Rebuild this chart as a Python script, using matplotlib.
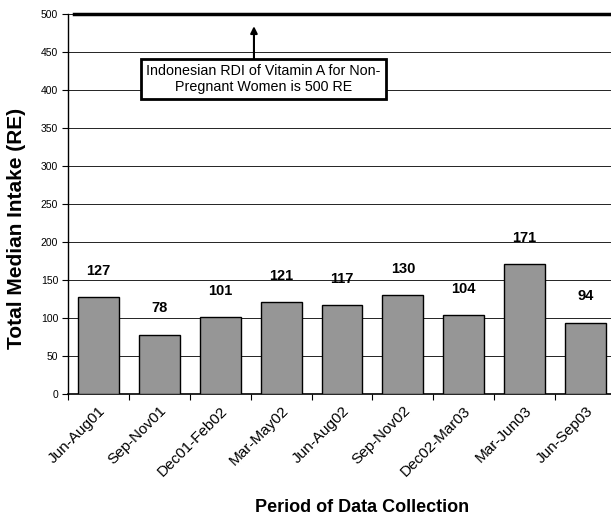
import matplotlib
matplotlib.use("Agg")
import matplotlib.pyplot as plt
import numpy as np

plt.rcParams['font.family'] = ['Liberation Sans', 'DejaVu Sans']

periods = ["Jun-Aug01", "Sep-Nov01", "Dec01-Feb02", "Mar-May02", "Jun-Aug02",
           "Sep-Nov02", "Dec02-Mar03", "Mar-Jun03", "Jun-Sep03"]
intake = [127, 78, 101, 121, 117, 130, 104, 171, 94]
rdi = 500
y_ticks = [0, 50, 100, 150, 200, 250, 300, 350, 400, 450, 500]

fig = plt.figure(figsize=(6.11, 5.18), dpi=100)
ax = fig.add_axes([68/611, 124/518, 548/611, 380/518])

x = np.arange(len(periods))
ax.bar(x, intake, width=0.67, color="#969696", edgecolor="black", linewidth=1.0, zorder=3)

for xi, v in zip(x, intake):
    ax.annotate(str(v), (xi, v), xytext=(0, 19), textcoords="offset points",
                ha="center", va="center", fontsize=10.5, fontweight="bold")

ax.set_xlim(-0.5, len(periods) - 0.5)
ax.set_ylim(0, 500)
ax.set_yticks(y_ticks)
ax.tick_params(axis="y", labelsize=7.5, length=4, width=0.8, direction="out", pad=3)
ax.yaxis.grid(True, color="black", linewidth=0.6, zorder=0)
ax.set_axisbelow(True)

ax.set_xticks(x)
ax.set_xticklabels(periods, rotation=45, ha="right", rotation_mode="anchor", fontsize=11)
ax.tick_params(axis="x", length=0, pad=7)
ax.set_xticks(np.arange(len(periods) + 1) - 0.5, minor=True)
ax.tick_params(axis="x", which="minor", length=4, width=0.8, direction="out")

for s in ["top", "right"]:
    ax.spines[s].set_visible(False)
ax.spines["left"].set_linewidth(1.0)
ax.spines["bottom"].set_linewidth(1.2)

ax.plot([-0.4, len(periods)], [rdi, rdi], color="black", linewidth=2.5, clip_on=False, zorder=4)

ax.annotate("", xy=(2.554, 484), xytext=(2.554, 440),
            arrowprops=dict(arrowstyle="-|>", color="black", lw=1.5, mutation_scale=10,
                            shrinkA=0, shrinkB=0), zorder=5)
ax.text(2.71, 414, "Indonesian RDI of Vitamin A for Non-\nPregnant Women is 500 RE",
        ha="center", va="center", fontsize=10.3, linespacing=1.2, zorder=6,
        bbox=dict(boxstyle="square,pad=0.35", fc="white", ec="black", lw=2))

ax.set_ylabel("Total Median Intake (RE)", fontsize=15, fontweight="bold")
ax.yaxis.set_label_coords(-42/548, (394-228)/380)
ax.set_xlabel("Period of Data Collection", fontsize=13, fontweight="bold")
ax.xaxis.set_label_coords((362-68)/548, (394-508)/380)
ax.xaxis.label.set_va("center")

fig.savefig("out.png", dpi=100)
